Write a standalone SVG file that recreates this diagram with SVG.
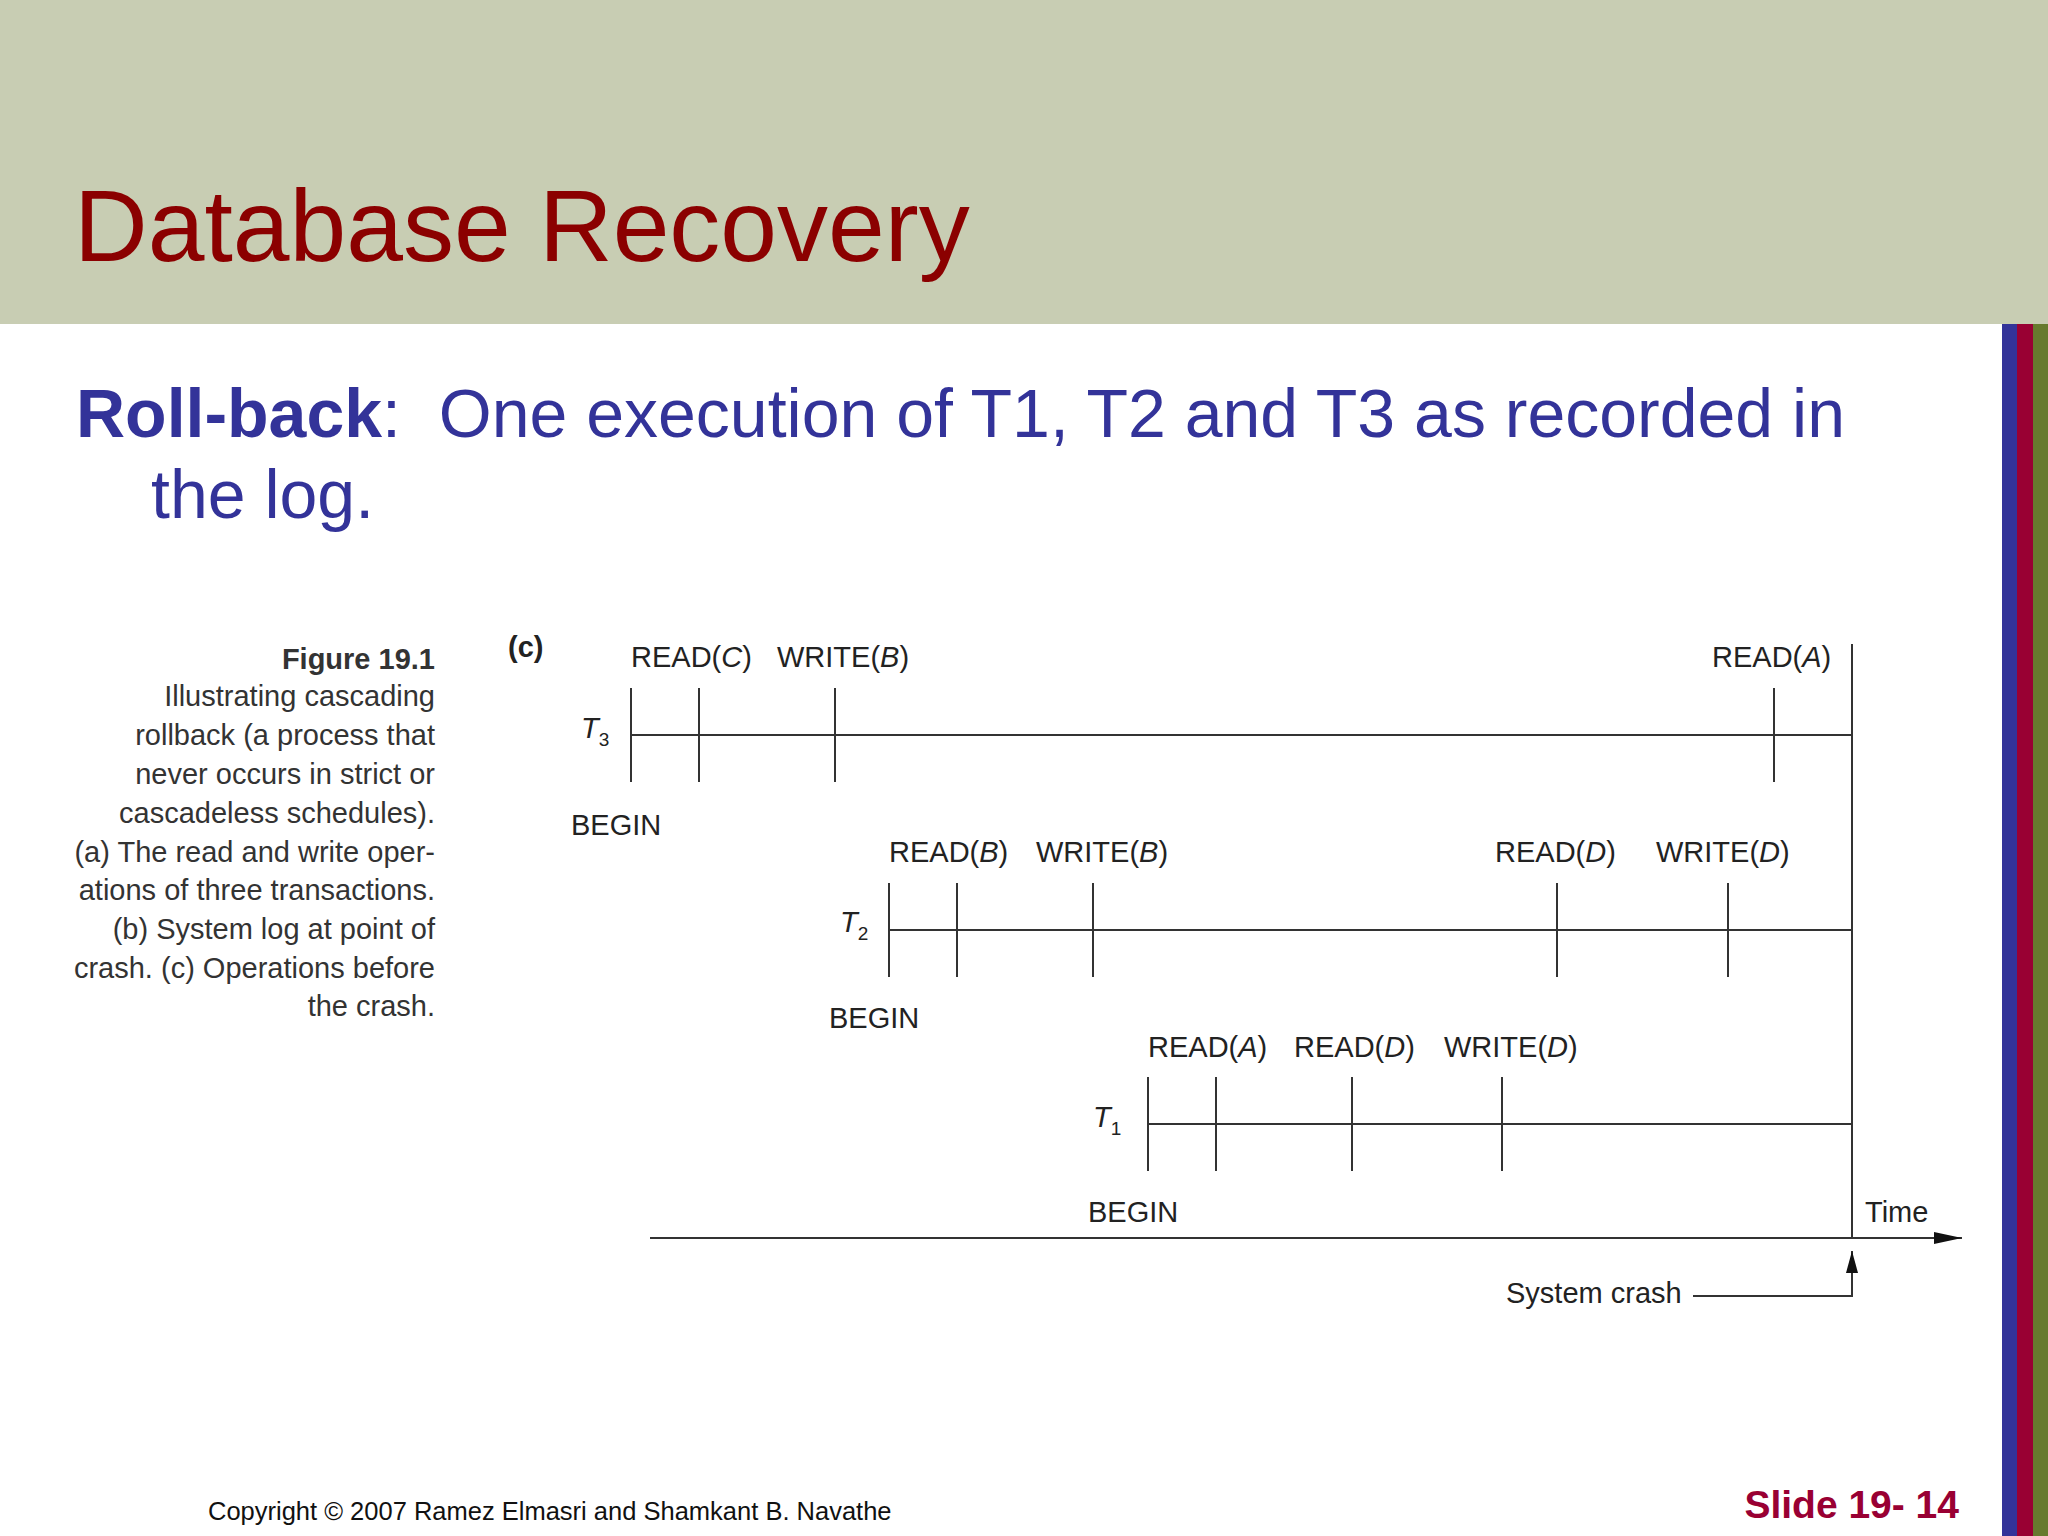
<svg xmlns="http://www.w3.org/2000/svg" width="2048" height="1536" viewBox="0 0 2048 1536">
<style>
.l{stroke:#333;stroke-width:2;fill:none}
.t{font-family:"Liberation Sans",Arial,sans-serif;font-size:29px;fill:#222}
.c{font-family:"Liberation Sans",Arial,sans-serif;font-size:29px;fill:#333;text-anchor:end}
</style>
<defs>
<marker id="ar2" viewBox="0 0 28 12" markerWidth="28" markerHeight="12" refX="28" refY="6" orient="auto" markerUnits="userSpaceOnUse"><path d="M0,0 L28,6 L0,12 z" fill="#111"/></marker>
<marker id="ar3" viewBox="0 0 22 12" markerWidth="22" markerHeight="12" refX="22" refY="6" orient="auto" markerUnits="userSpaceOnUse"><path d="M0,0 L22,6 L0,12 z" fill="#111"/></marker>
</defs>
<rect width="2048" height="1536" fill="#fff"/>
<rect width="2048" height="324" fill="#c8cdb3"/>
<rect x="2002" y="324" width="15" height="1212" fill="#333399"/>
<rect x="2017" y="324" width="16" height="1212" fill="#990033"/>
<rect x="2033" y="324" width="15" height="1212" fill="#677a2e"/>
<text x="74" y="261" font-family="'Liberation Sans',Arial,sans-serif" font-size="102" fill="#8b0000">Database Recovery</text>
<text x="76" y="437" font-family="'Liberation Sans',Arial,sans-serif" font-size="68" fill="#333399" xml:space="preserve"><tspan font-weight="bold">Roll-back</tspan>:  One execution of T1, T2 and T3 as recorded in</text>
<text x="151" y="518" font-family="'Liberation Sans',Arial,sans-serif" font-size="68" fill="#333399">the log.</text>
<g id="caption">
<text class="c" x="435" y="669" font-weight="bold" fill="#111">Figure 19.1</text>
<text class="c" x="435" y="706">Illustrating cascading</text>
<text class="c" x="435" y="745">rollback (a process that</text>
<text class="c" x="435" y="784">never occurs in strict or</text>
<text class="c" x="435" y="823">cascadeless schedules).</text>
<text class="c" x="435" y="862">(a) The read and write oper-</text>
<text class="c" x="435" y="900">ations of three transactions.</text>
<text class="c" x="435" y="939">(b) System log at point of</text>
<text class="c" x="435" y="978">crash. (c) Operations before</text>
<text class="c" x="435" y="1016">the crash.</text>
</g>
<text class="t" x="508" y="657" font-weight="bold">(c)</text>
<g id="T3">
<path class="l" d="M631,735 H1852 M631,688 V782 M699,688 V782 M835,688 V782 M1774,688 V782"/>
<text class="t" x="631" y="667">READ(<tspan font-style="italic">C</tspan>)</text>
<text class="t" x="777" y="667">WRITE(<tspan font-style="italic">B</tspan>)</text>
<text class="t" x="1712" y="667">READ(<tspan font-style="italic">A</tspan>)</text>
<text class="t" x="571" y="835">BEGIN</text>
<text class="t" x="581" y="738" font-style="italic">T<tspan font-size="19" dy="8" font-style="normal">3</tspan></text>
</g>
<g id="T2">
<path class="l" d="M889,930 H1852 M889,883 V977 M957,883 V977 M1093,883 V977 M1557,883 V977 M1728,883 V977"/>
<text class="t" x="889" y="862">READ(<tspan font-style="italic">B</tspan>)</text>
<text class="t" x="1036" y="862">WRITE(<tspan font-style="italic">B</tspan>)</text>
<text class="t" x="1495" y="862">READ(<tspan font-style="italic">D</tspan>)</text>
<text class="t" x="1656" y="862">WRITE(<tspan font-style="italic">D</tspan>)</text>
<text class="t" x="829" y="1028">BEGIN</text>
<text class="t" x="840" y="932" font-style="italic">T<tspan font-size="19" dy="8" font-style="normal">2</tspan></text>
</g>
<g id="T1">
<path class="l" d="M1148,1124 H1852 M1148,1077 V1171 M1216,1077 V1171 M1352,1077 V1171 M1502,1077 V1171"/>
<text class="t" x="1148" y="1057">READ(<tspan font-style="italic">A</tspan>)</text>
<text class="t" x="1294" y="1057">READ(<tspan font-style="italic">D</tspan>)</text>
<text class="t" x="1444" y="1057">WRITE(<tspan font-style="italic">D</tspan>)</text>
<text class="t" x="1088" y="1222">BEGIN</text>
<text class="t" x="1093" y="1127" font-style="italic">T<tspan font-size="19" dy="8" font-style="normal">1</tspan></text>
</g>
<g id="connectors">
<path class="l" d="M1852,644 V1238"/>
<path class="l" d="M650,1238 H1962" marker-end="url(#ar2)"/>
<path class="l" d="M1693,1296 H1852 V1251" marker-end="url(#ar3)"/>
</g>
<text class="t" x="1865" y="1222">Time</text>
<text class="t" x="1506" y="1303">System crash</text>
<text x="208" y="1520" font-family="'Liberation Sans',Arial,sans-serif" font-size="25.5" fill="#111">Copyright © 2007 Ramez Elmasri and Shamkant B. Navathe</text>
<text x="1959" y="1518" text-anchor="end" font-family="'Liberation Sans',Arial,sans-serif" font-size="39" font-weight="bold" fill="#990033">Slide 19- 14</text>
</svg>
